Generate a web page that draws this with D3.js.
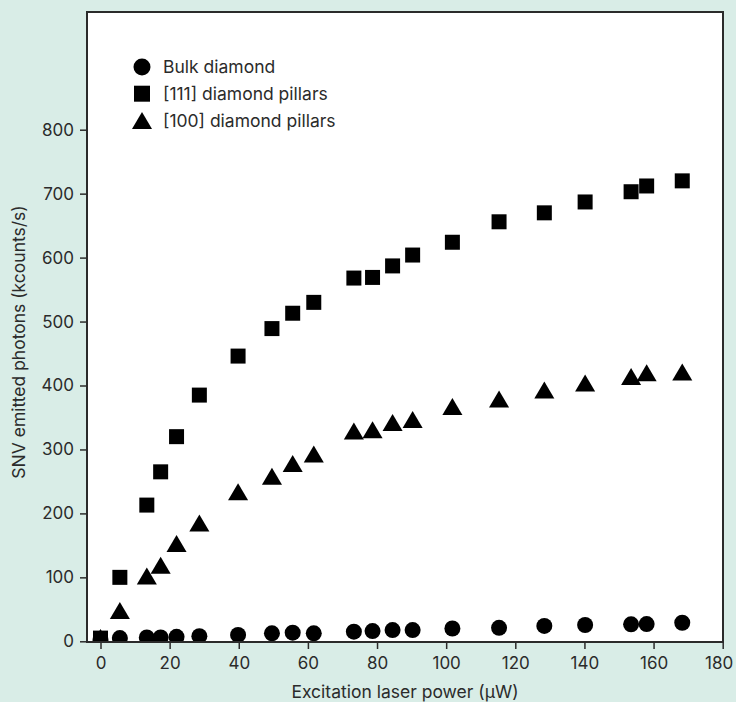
<!DOCTYPE html>
<html>
<head>
<meta charset="utf-8">
<script src="https://cdn.jsdelivr.net/npm/d3@7"></script>
<style>
  html, body { margin: 0; padding: 0; background: #d9ede7; }
  svg { display: block; font-family: Inter, "Noto Sans", sans-serif; }
</style>
</head>
<body>
<svg width="736" height="702"></svg>
<script>
// excitation power (uW), shared by the three series
var power = [0, 5.6, 13.4, 17.4, 22, 28.6, 39.8, 49.6, 55.6, 61.7, 73.3, 78.7, 84.5, 90.3, 101.8, 115.3, 128.4, 140.2, 153.5, 158, 168.3];

var bulk = [2, 5, 6, 6, 7, 8, 10, 12.5, 13.5, 12.5, 15, 16, 17.5, 17.5, 20, 21, 24, 25.5, 26.5, 27, 29];
var pillars111 = [5, 100, 213, 265, 320, 385, 446, 489, 513, 530, 568, 569, 587, 604, 624, 656, 670, 687, 703, 712, 720];
var pillars100 = [6, 48, 102, 119, 153, 185, 234, 258, 278, 293, 329, 331, 342, 347, 367, 379, 393, 404, 414, 420, 421];

var xTicks = [0, 20, 40, 60, 80, 100, 120, 140, 160, 180];
var yTicks = [0, 100, 200, 300, 400, 500, 600, 700, 800];

var series = [
  { name: "Bulk diamond", shape: "circle", values: bulk },
  { name: "[111] diamond pillars", shape: "square", values: pillars111 },
  { name: "[100] diamond pillars", shape: "triangle", values: pillars100 }
];

var svg = d3.select("svg");
var frame = { left: 87, right: 723, top: 12, bottom: 642 };
var ink = "#2b2b2b";

var x = d3.scaleLinear().domain([0, 180]).range([100.5, 722.7]);
var y = d3.scaleLinear().domain([0, 800]).range([641.3, 129.7]);

// marker paths, centred on the box centre
function markerPath(shape, s) {
  if (shape == "circle") {
    var r = s / 2;
    return "M" + (-r) + ",0A" + r + "," + r + " 0 1,0 " + r + ",0A" + r + "," + r + " 0 1,0 " + (-r) + ",0Z";
  }
  if (shape == "square") {
    var h = s / 2;
    return "M" + (-h) + "," + (-h) + "H" + h + "V" + h + "H" + (-h) + "Z";
  }
  var w = s * 1.18 / 2, th = s / 2;
  return "M0," + (-th) + "L" + w + "," + th + "L" + (-w) + "," + th + "Z";
}
var markerSize = { circle: 16, square: 15, triangle: 17 };

// plot area
svg.append("rect")
  .attr("x", frame.left).attr("y", frame.top)
  .attr("width", frame.right - frame.left).attr("height", frame.bottom - frame.top)
  .attr("fill", "#fff");

svg.append("clipPath").attr("id", "plotclip")
  .append("rect")
  .attr("x", frame.left).attr("y", frame.top)
  .attr("width", frame.right - frame.left).attr("height", frame.bottom - frame.top);

var marks = svg.append("g").attr("clip-path", "url(#plotclip)");

series.slice().reverse().forEach(function(s) {
  marks.append("g")
    .selectAll("path")
    .data(s.values)
    .enter().append("path")
      .attr("transform", function(d, i) { return "translate(" + x(power[i]) + "," + y(d) + ")"; })
      .attr("d", markerPath(s.shape, markerSize[s.shape]))
      .attr("fill", "#000");
});

// frame
svg.append("rect")
  .attr("x", frame.left).attr("y", frame.top)
  .attr("width", frame.right - frame.left).attr("height", frame.bottom - frame.top)
  .attr("fill", "none")
  .attr("stroke", ink)
  .attr("stroke-width", 2);

// axes
var xAxis = svg.append("g")
  .attr("transform", "translate(0," + frame.bottom + ")")
  .call(d3.axisBottom(x).tickValues(xTicks).tickSize(7).tickPadding(8));

var yAxis = svg.append("g")
  .attr("transform", "translate(" + frame.left + ",0)")
  .call(d3.axisLeft(y).tickValues(yTicks).tickSize(7).tickPadding(6));

[xAxis, yAxis].forEach(function(a) {
  a.select(".domain").remove();
  a.selectAll("line").attr("stroke", ink).attr("stroke-width", 1.5);
  a.selectAll("text").attr("fill", ink).style("font-size", "17px").style("font-family", "Inter, sans-serif");
});

// last x label sits against the page edge
xAxis.selectAll(".tick text").filter(function(d) { return d == 180; }).attr("dx", -4);

svg.append("text")
  .attr("x", (frame.left + frame.right) / 2)
  .attr("y", 698)
  .attr("text-anchor", "middle")
  .attr("fill", ink)
  .style("font-size", "17.5px")
  .text("Excitation laser power (\u00b5W)");

svg.append("text")
  .attr("transform", "translate(25,342) rotate(-90)")
  .attr("text-anchor", "middle")
  .attr("fill", ink)
  .style("font-size", "17.5px")
  .text("SNV emitted photons (kcounts/s)");

// legend
var legend = svg.append("g").attr("transform", "translate(142,67)");
var legendSize = { circle: 17, square: 16, triangle: 17 };
series.forEach(function(s, i) {
  var row = legend.append("g").attr("transform", "translate(0," + (i * 26.7) + ")");
  row.append("path").attr("d", markerPath(s.shape, legendSize[s.shape])).attr("fill", "#000");
  row.append("text")
    .attr("x", 21).attr("dy", "0.35em")
    .attr("fill", ink)
    .style("font-size", "17.5px")
    .text(s.name);
});
</script>
</body>
</html>
